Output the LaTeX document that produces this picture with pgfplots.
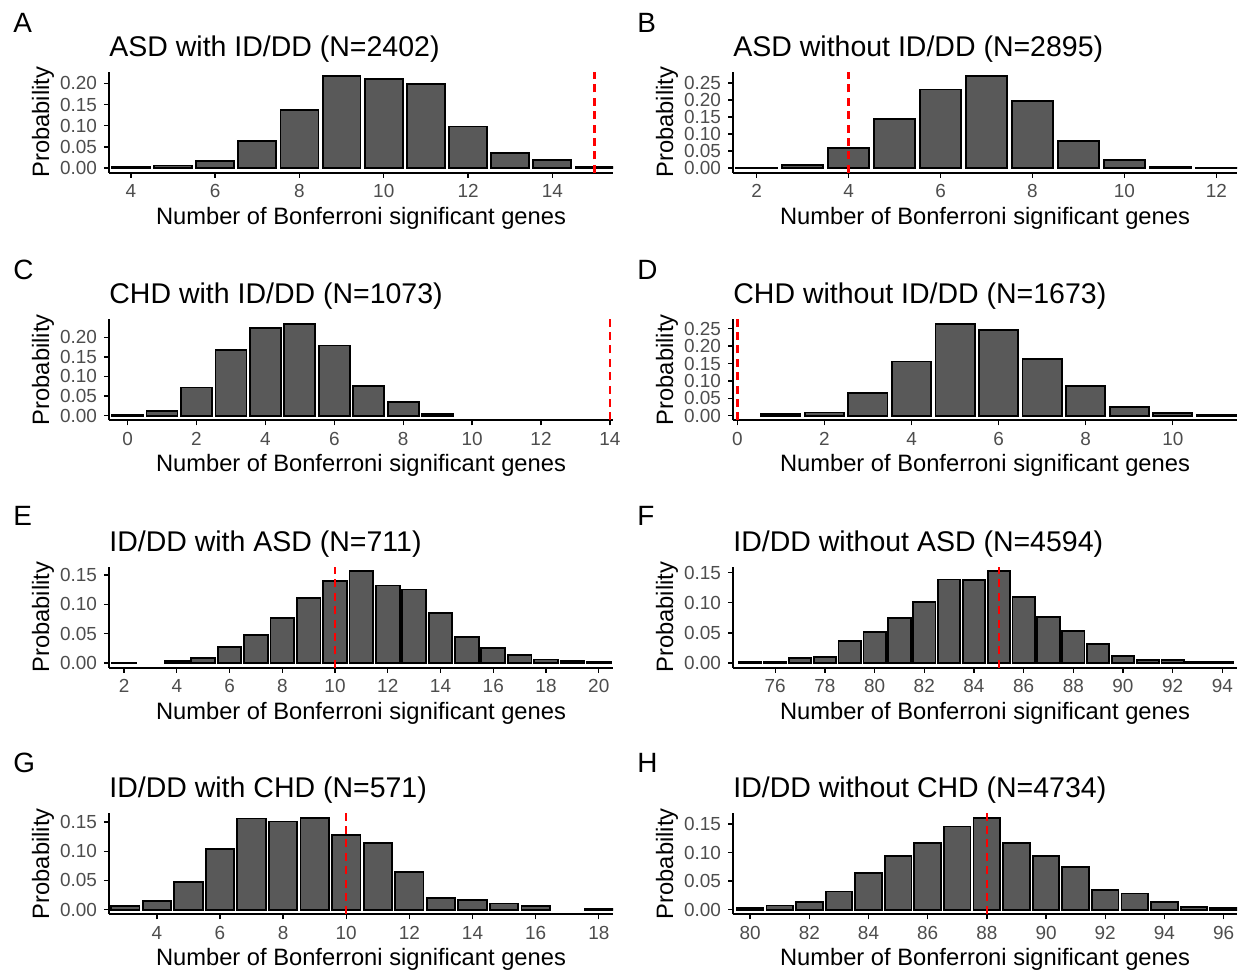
\documentclass[border=0pt]{standalone}
\usepackage{fontspec}
\setmainfont{Liberation Sans}
\usepackage{pgfplots}
\pgfplotsset{compat=1.18}

\definecolor{barfill}{HTML}{595959}
\definecolor{tickgray}{HTML}{4D4D4D}

\pgfplotsset{
  panel/.style={
    scale only axis, width=252bp, height=50.5bp,
    anchor=north west,
    axis x line*=bottom, axis y line*=left,
    axis line style={line width=0.9bp, black, -},
    tick style={line width=0.7bp, black},
    tick align=outside, major tick length=2.5bp,
    xticklabel style={font=\fontsize{9.5}{11}\selectfont, text=tickgray},
    yticklabel style={font=\fontsize{9.5}{11}\selectfont, text=tickgray, /pgf/number format/.cd, fixed, fixed zerofill, precision=2},
    /pgf/number format/assume math mode=true,
    scaled y ticks=false,
    xlabel={Number of Bonferroni significant genes},
    ylabel={Probability},
    every axis x label/.style={at={(axis description cs:0.5,-0.4485)}, anchor=center, font=\fontsize{11.9}{14}\selectfont},
    every axis y label/.style={at={(axis description cs:-0.131,0.5)}, rotate=90, anchor=center, font=\fontsize{11.9}{14}\selectfont},
    every axis title/.style={font=\fontsize{14.3}{17}\selectfont, at={(axis description cs:0,1)}, anchor=base west, yshift=7.8bp, inner sep=0pt},
  },
  bars/.style={ybar, bar width=0.9, bar shift=0pt, fill=barfill, draw=black, line width=0.9bp},
  vl/.style={red, line width=1.2bp, dash pattern=on 4bp off 2.7bp},
}

\begin{document}
\begin{tikzpicture}
\useasboundingbox (0,0) rectangle (619bp,-486.5bp);

% Panel letters
\tikzset{lett/.style={anchor=base west, inner sep=0pt, font=\fontsize{14}{16}\selectfont}}
\node[lett] at (6.5bp,-16bp) {A};
\node[lett] at (318.5bp,-16bp) {B};
\node[lett] at (6.5bp,-139.5bp) {C};
\node[lett] at (318.5bp,-139.5bp) {D};
\node[lett] at (6.5bp,-262.5bp) {E};
\node[lett] at (318.5bp,-262.5bp) {F};
\node[lett] at (6.5bp,-386bp) {G};
\node[lett] at (318.5bp,-386bp) {H};

% A
\begin{axis}[panel, at={(54.5bp,-35.85bp)},
  title={ASD with ID/DD (N=2402)},
  xmin=3.48, xmax=15.44, ymin=-0.0108, ymax=0.2273,
  xtick={4,6,...,14}, ytick={0,0.05,...,0.2}]
\addplot[bars] coordinates {(4,0.003)(5,0.006)(6,0.016)(7,0.0635)(8,0.137)(9,0.2165)(10,0.211)(11,0.199)(12,0.098)(13,0.035)(14,0.019)(15,0.003)};
\addplot[vl] coordinates {(15,-0.0108)(15,0.2273)};
\end{axis}

% B
\begin{axis}[panel, at={(366.5bp,-35.85bp)},
  title={ASD without ID/DD (N=2895)},
  xmin=1.485, xmax=12.45, ymin=-0.0135, ymax=0.283,
  xtick={2,4,...,12}, ytick={0,0.05,...,0.25}]
\addplot[bars] coordinates {(2,0.002)(3,0.008)(4,0.058)(5,0.144)(6,0.2305)(7,0.2695)(8,0.1975)(9,0.080)(10,0.024)(11,0.005)(12,0.002)};
\addplot[vl] coordinates {(4,-0.0135)(4,0.283)};
\end{axis}

% C
\begin{axis}[panel, at={(54.5bp,-159.65bp)},
  title={CHD with ID/DD (N=1073)},
  xmin=-0.54, xmax=14.09, ymin=-0.0117, ymax=0.2457,
  xtick={0,2,...,14}, ytick={0,0.05,...,0.2}]
\addplot[bars] coordinates {(0,0.0026)(1,0.0128)(2,0.072)(3,0.1677)(4,0.224)(5,0.234)(6,0.179)(7,0.0766)(8,0.034)(9,0.005)};
\addplot[vl] coordinates {(14,-0.0117)(14,0.2457)};
\end{axis}

% D
\begin{axis}[panel, at={(366.5bp,-159.65bp)},
  title={CHD without ID/DD (N=1673)},
  xmin=-0.1, xmax=11.475, ymin=-0.0132, ymax=0.2772,
  xtick={0,2,...,10}, ytick={0,0.05,...,0.25}]
\addplot[bars] coordinates {(1,0.004)(2,0.0095)(3,0.066)(4,0.156)(5,0.264)(6,0.247)(7,0.163)(8,0.085)(9,0.026)(10,0.0067)(11,0.003)};
\addplot[vl] coordinates {(0,-0.0132)(0,0.2772)};
\end{axis}

% E
\begin{axis}[panel, at={(54.5bp,-283.35bp)},
  title={ID/DD with ASD (N=711)},
  xmin=1.43, xmax=20.54, ymin=-0.0078, ymax=0.1638,
  xtick={2,4,...,20}, ytick={0,0.05,...,0.15}]
\addplot[bars] coordinates {(2,0.001)(4,0.004)(5,0.009)(6,0.0275)(7,0.048)(8,0.0767)(9,0.111)(10,0.14)(11,0.156)(12,0.132)(13,0.125)(14,0.085)(15,0.044)(16,0.0258)(17,0.0135)(18,0.006)(19,0.0035)(20,0.002)};
\addplot[vl] coordinates {(10,-0.0078)(10,0.1638)};
\end{axis}

% F
\begin{axis}[panel, at={(366.5bp,-283.35bp)},
  title={ID/DD without ASD (N=4594)},
  xmin=74.30, xmax=94.59, ymin=-0.0076, ymax=0.1596,
  xtick={76,78,...,94}, ytick={0,0.05,...,0.15}]
\addplot[bars] coordinates {(75,0.002)(76,0.002)(77,0.009)(78,0.010)(79,0.036)(80,0.052)(81,0.075)(82,0.101)(83,0.1385)(84,0.137)(85,0.152)(86,0.11)(87,0.077)(88,0.053)(89,0.0315)(90,0.012)(91,0.005)(92,0.005)(93,0.002)(94,0.002)};
\addplot[vl] coordinates {(85,-0.0076)(85,0.1596)};
\end{axis}

% G
\begin{axis}[panel, at={(54.5bp,-406.65bp)},
  title={ID/DD with CHD (N=571)},
  xmin=2.485, xmax=18.45, ymin=-0.0079, ymax=0.1649,
  xtick={4,6,...,18}, ytick={0,0.05,...,0.15}]
\addplot[bars] coordinates {(3,0.007)(4,0.015)(5,0.047)(6,0.104)(7,0.156)(8,0.151)(9,0.157)(10,0.1275)(11,0.114)(12,0.065)(13,0.0196)(14,0.016)(15,0.0107)(16,0.0065)(18,0.002)};
\addplot[vl] coordinates {(10,-0.0079)(10,0.1649)};
\end{axis}

% H
\begin{axis}[panel, at={(366.5bp,-406.65bp)},
  title={ID/DD without CHD (N=4734)},
  xmin=79.42, xmax=96.455, ymin=-0.0081, ymax=0.1691,
  xtick={80,82,...,96}, ytick={0,0.05,...,0.15}]
\addplot[bars] coordinates {(80,0.0036)(81,0.0073)(82,0.0133)(83,0.032)(84,0.0647)(85,0.094)(86,0.1167)(87,0.146)(88,0.161)(89,0.117)(90,0.0938)(91,0.075)(92,0.0345)(93,0.0284)(94,0.0139)(95,0.0054)(96,0.003)};
\addplot[vl] coordinates {(88,-0.0081)(88,0.1691)};
\end{axis}
\end{tikzpicture}
\end{document}
